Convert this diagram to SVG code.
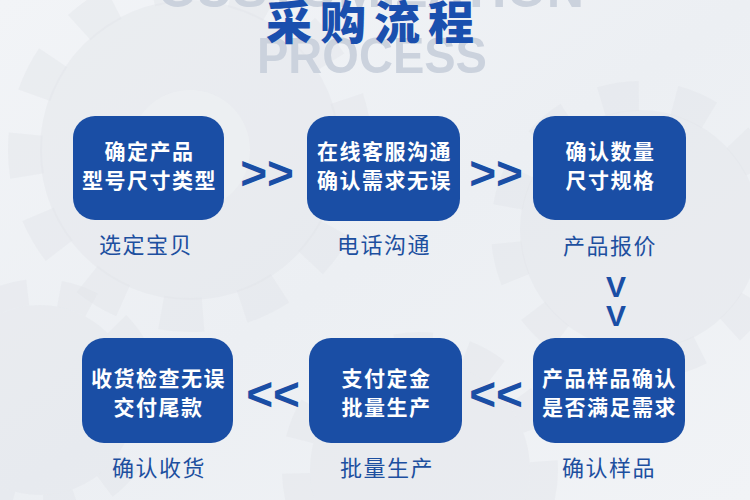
<svg xmlns="http://www.w3.org/2000/svg" width="750" height="500" viewBox="0 0 750 500">
  <defs>
    <linearGradient id="bg" x1="0" y1="0" x2="1" y2="1">
      <stop offset="0" stop-color="#f2f4f7"/>
      <stop offset="0.5" stop-color="#eceff3"/>
      <stop offset="1" stop-color="#f1f3f6"/>
    </linearGradient>
    <style>
      .gear { fill: #e0e3e8; opacity: 0.4; }
      .gearT { fill: none; stroke: #e0e3e8; opacity: 0.4; }
      .box { fill: #1a4ea5; }
      .btxt { font-family: "Noto Sans CJK SC", "Noto Sans", sans-serif; font-weight: 700; font-size: 21px; fill: #ffffff; text-anchor: middle; letter-spacing: 1.5px; }
      .lbl { font-family: "Noto Sans CJK SC", "Noto Sans", sans-serif; font-weight: 400; font-size: 22px; fill: #1d4f9f; text-anchor: middle; letter-spacing: 1.5px; }
      .chev { font-family: "Liberation Sans", Arial, sans-serif; font-weight: 700; font-size: 46px; fill: #1a4ea5; text-anchor: middle; }
      .vee { font-family: "Liberation Sans", Arial, sans-serif; font-weight: 700; font-size: 30px; fill: #1a4ea5; text-anchor: middle; }
      .ghost { font-family: "Liberation Sans", Arial, sans-serif; font-weight: 700; font-size: 50px; fill: #cbd2dd; text-anchor: middle; }
    </style>
  </defs>

  <!-- background -->
  <rect x="0" y="0" width="750" height="500" fill="url(#bg)"/>
  <g id="background-gears">
    <circle class="gear" cx="190" cy="150" r="150"/>
    <circle class="gearT" cx="190" cy="150" r="165" stroke-width="34" stroke-dasharray="42 40"/>
    <circle cx="190" cy="150" r="60" fill="#eef1f4" opacity="0.6"/>
    <circle class="gear" cx="640" cy="230" r="120"/>
    <circle class="gearT" cx="640" cy="230" r="134" stroke-width="30" stroke-dasharray="38 36"/>
    <circle class="gear" cx="420" cy="470" r="110"/>
    <circle class="gearT" cx="420" cy="470" r="124" stroke-width="28" stroke-dasharray="36 34"/>
    <circle class="gear" cx="40" cy="400" r="95"/>
    <circle class="gearT" cx="40" cy="400" r="108" stroke-width="26" stroke-dasharray="34 32"/>
  </g>

  <!-- title -->
  <g id="title">
    <text class="ghost" x="371" y="7" textLength="426" lengthAdjust="spacingAndGlyphs">CUSTOMIZATION</text>
    <text class="ghost" x="372" y="73" textLength="230" lengthAdjust="spacingAndGlyphs">PROCESS</text>
    <text x="374" y="39" font-family="'Noto Sans CJK SC', 'Noto Sans', sans-serif" font-weight="900" font-size="46" fill="#1a4fae" text-anchor="middle" letter-spacing="8">采购流程</text>
  </g>

  <!-- nodes -->
  <g id="node1">
    <rect class="box" x="73" y="116" width="151" height="104" rx="22"/>
    <text class="btxt" x="149.5" y="159">确定产品</text>
    <text class="btxt" x="149.5" y="188">型号尺寸类型</text>
    <text class="lbl" x="146" y="253">选定宝贝</text>
  </g>
  <g id="node2">
    <rect class="box" x="307" y="116" width="153" height="105" rx="22"/>
    <text class="btxt" x="384.5" y="159">在线客服沟通</text>
    <text class="btxt" x="384.5" y="188">确认需求无误</text>
    <text class="lbl" x="384" y="253">电话沟通</text>
  </g>
  <g id="node3">
    <rect class="box" x="533" y="116" width="153" height="104" rx="22"/>
    <text class="btxt" x="610.5" y="159">确认数量</text>
    <text class="btxt" x="610.5" y="188">尺寸规格</text>
    <text class="lbl" x="610" y="254">产品报价</text>
  </g>
  <g id="node4">
    <rect class="box" x="533" y="338" width="152" height="105" rx="22"/>
    <text class="btxt" x="609.5" y="386">产品样品确认</text>
    <text class="btxt" x="609.5" y="415">是否满足需求</text>
    <text class="lbl" x="609" y="476">确认样品</text>
  </g>
  <g id="node5">
    <rect class="box" x="309" y="338" width="153" height="105" rx="22"/>
    <text class="btxt" x="386.5" y="386">支付定金</text>
    <text class="btxt" x="386.5" y="415">批量生产</text>
    <text class="lbl" x="387" y="476">批量生产</text>
  </g>
  <g id="node6">
    <rect class="box" x="82" y="338" width="151" height="105" rx="22"/>
    <text class="btxt" x="158.5" y="386">收货检查无误</text>
    <text class="btxt" x="158.5" y="415">交付尾款</text>
    <text class="lbl" x="159" y="476">确认收货</text>
  </g>

  <!-- connectors -->
  <g id="connectors">
    <text class="chev" x="267" y="189">&gt;&gt;</text>
    <text class="chev" x="496" y="189">&gt;&gt;</text>
    <text class="vee" x="616" y="297">V</text>
    <text class="vee" x="616" y="326">V</text>
    <text class="chev" x="496" y="410">&lt;&lt;</text>
    <text class="chev" x="273" y="410">&lt;&lt;</text>
  </g>
</svg>
